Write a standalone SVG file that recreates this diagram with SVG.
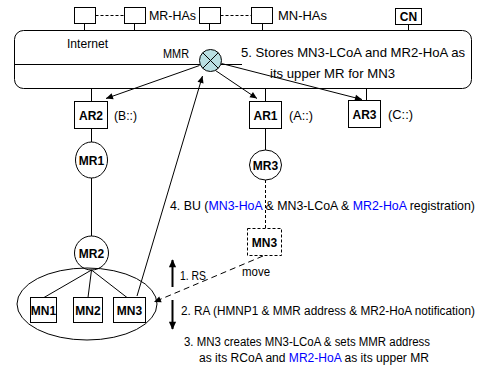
<svg xmlns="http://www.w3.org/2000/svg" width="482" height="367" viewBox="0 0 482 367">
<defs>
<style>
.ln{stroke:#000;stroke-width:1;fill:none}
.bx{stroke:#000;stroke-width:1;fill:#fff}
.dsh{stroke:#000;stroke-width:1;fill:none;stroke-dasharray:3,2}
.t{font-family:"Liberation Sans",Arial,sans-serif;font-size:13px;fill:#000}
.s{font-size:12px}
.lb{font-family:"Liberation Sans",Arial,sans-serif;font-size:12px;font-weight:bold;fill:#000}
.b{fill:#0000ff}
</style>
<marker id="ah" viewBox="0 0 10 10" refX="10" refY="5" markerWidth="9" markerHeight="7" markerUnits="userSpaceOnUse" orient="auto"><path d="M0,0.5 L10,5 L0,9.5 z" fill="#000"/></marker>
<marker id="ahb" viewBox="0 0 10 10" refX="9" refY="5" markerWidth="9" markerHeight="8" markerUnits="userSpaceOnUse" orient="auto"><path d="M0,0.5 L10,5 L0,9.5 z" fill="#000"/></marker>
</defs>
<rect width="482" height="367" fill="#fff"/>

<g id="internet">
<rect x="14.5" y="30.5" width="457" height="58" rx="9" class="bx"/>
<line x1="14.5" y1="64.5" x2="242" y2="64.5" class="ln"/>
<text x="67" y="48" class="t" textLength="41" lengthAdjust="spacingAndGlyphs">Internet</text>
<text x="163" y="58" class="t" textLength="26" lengthAdjust="spacingAndGlyphs">MMR</text>
<text x="241" y="57" class="t" textLength="224" lengthAdjust="spacingAndGlyphs">5. Stores MN3-LCoA and MR2-HoA as</text>
<text x="270" y="78" class="t" textLength="125" lengthAdjust="spacingAndGlyphs">its upper MR for MN3</text>
</g>

<g id="mrhas">
<rect x="74.5" y="7.5" width="21" height="16" class="bx"/>
<rect x="124.5" y="7.5" width="21" height="16" class="bx"/>
<text x="149" y="20" class="t" textLength="47" lengthAdjust="spacingAndGlyphs">MR-HAs</text>
</g>
<g id="mnhas">
<rect x="199.5" y="7.5" width="21" height="16" class="bx"/>
<rect x="251.5" y="7.5" width="21" height="16" class="bx"/>
<text x="278" y="20" class="t" textLength="49" lengthAdjust="spacingAndGlyphs">MN-HAs</text>
</g>
<g id="cn">
<rect x="395.5" y="8.5" width="26" height="16" class="bx" stroke-width="1.5"/>
<text x="408.5" y="21" class="lb" text-anchor="middle">CN</text>
</g>

<g id="mmr">
<circle cx="210.5" cy="60.5" r="11" fill="#b9dfe2" stroke="#000"/>
<line x1="202.7" y1="52.7" x2="218.3" y2="68.3" class="ln"/>
<line x1="218.3" y1="52.7" x2="202.7" y2="68.3" class="ln"/>
</g>

<g id="ar2">
<rect x="74.5" y="101.5" width="33" height="27" class="bx"/>
<text x="91" y="120" class="lb" text-anchor="middle">AR2</text>
<text x="114" y="120" class="t" textLength="23" lengthAdjust="spacingAndGlyphs">(B::)</text>
</g>
<g id="ar1">
<rect x="249.5" y="101.5" width="32" height="27" class="bx"/>
<text x="265.5" y="120" class="lb" text-anchor="middle">AR1</text>
<text x="289" y="120" class="t" textLength="24" lengthAdjust="spacingAndGlyphs">(A::)</text>
</g>
<g id="ar3">
<rect x="348.5" y="100.5" width="32" height="27" class="bx"/>
<text x="364.5" y="119" class="lb" text-anchor="middle">AR3</text>
<text x="388" y="119" class="t" textLength="25" lengthAdjust="spacingAndGlyphs">(C::)</text>
</g>

<g id="mr1">
<ellipse cx="91.5" cy="160" rx="16" ry="18" class="bx"/>
<text x="91.5" y="165" class="lb" text-anchor="middle">MR1</text>
</g>
<g id="mr2">
<ellipse cx="91.5" cy="253" rx="17" ry="17" class="bx"/>
<text x="91.5" y="258" class="lb" text-anchor="middle">MR2</text>
</g>
<g id="mr3">
<ellipse cx="265.5" cy="165" rx="16" ry="15" class="bx"/>
<text x="265.5" y="170" class="lb" text-anchor="middle">MR3</text>
</g>

<g id="subnet">
<ellipse cx="87" cy="304" rx="70" ry="36" class="ln"/>
</g>
<g id="mn1">
<rect x="30.5" y="297.5" width="26" height="25" class="bx" stroke-width="1.5"/>
<text x="43.5" y="315" class="lb" text-anchor="middle">MN1</text>
</g>
<g id="mn2">
<rect x="73.5" y="297.5" width="29" height="25" class="bx" stroke-width="1.5"/>
<text x="88" y="315" class="lb" text-anchor="middle">MN2</text>
</g>
<g id="mn3">
<rect x="113.5" y="297.5" width="32" height="25" class="bx" stroke-width="1.5"/>
<text x="129.5" y="315" class="lb" text-anchor="middle">MN3</text>
</g>
<g id="mn3moved">
<rect x="247.5" y="228.5" width="34" height="27" class="dsh" fill="#fff"/>
<text x="264.5" y="247" class="lb" text-anchor="middle">MN3</text>
</g>

<g id="connectors">
<line x1="84.5" y1="23.5" x2="84.5" y2="30.5" class="ln"/>
<line x1="134.5" y1="23.5" x2="134.5" y2="30.5" class="ln"/>
<line x1="209.5" y1="23.5" x2="209.5" y2="30.5" class="ln"/>
<line x1="262.5" y1="23.5" x2="262.5" y2="30.5" class="ln"/>
<line x1="408.5" y1="24.5" x2="408.5" y2="30.5" class="ln"/>
<line x1="95.5" y1="15.5" x2="124.5" y2="15.5" class="dsh"/>
<line x1="220.5" y1="15.5" x2="251.5" y2="15.5" class="dsh"/>
<line x1="91.5" y1="88.5" x2="91.5" y2="101.5" class="ln"/>
<line x1="265.5" y1="88.5" x2="265.5" y2="101.5" class="ln"/>
<line x1="366.5" y1="88.5" x2="366.5" y2="100.5" class="ln"/>
<line x1="91.5" y1="128.5" x2="91.5" y2="142" class="ln"/>
<line x1="91.5" y1="178" x2="91.5" y2="236" class="ln"/>
<line x1="265.5" y1="128.5" x2="265.5" y2="150" class="ln"/>
<line x1="265.5" y1="180" x2="265.5" y2="228.5" class="dsh"/>
<line x1="91.5" y1="270" x2="44" y2="297.5" class="ln"/>
<line x1="91.5" y1="270" x2="88" y2="297.5" class="ln"/>
<line x1="91.5" y1="270" x2="127" y2="297.5" class="ln"/>
<line x1="199.5" y1="65.5" x2="106" y2="98.5" class="ln" marker-end="url(#ah)"/>
<line x1="215.5" y1="70.5" x2="257" y2="98.5" class="ln" marker-end="url(#ah)"/>
<line x1="221.5" y1="63.5" x2="362" y2="99.5" class="ln" marker-end="url(#ah)"/>
<line x1="137" y1="296" x2="202.5" y2="76" class="ln" marker-end="url(#ah)"/>
<line x1="263" y1="256" x2="154" y2="302" class="ln" stroke-dasharray="6,4" marker-end="url(#ah)"/>
<line x1="172.5" y1="287" x2="172.5" y2="260" stroke="#000" stroke-width="2" marker-end="url(#ahb)"/>
<line x1="172.5" y1="300" x2="172.5" y2="329" stroke="#000" stroke-width="2" marker-end="url(#ahb)"/>
</g>

<g id="labels">
<text x="170" y="210" class="t" textLength="305" lengthAdjust="spacingAndGlyphs">4. BU (<tspan class="b">MN3-HoA</tspan> &amp; MN3-LCoA  &amp;  <tspan class="b">MR2-HoA</tspan> registration)</text>
<text x="242" y="276" class="t" textLength="28" lengthAdjust="spacingAndGlyphs">move</text>
<text x="180" y="280" class="t" textLength="26" lengthAdjust="spacingAndGlyphs">1. RS</text>
<text x="181" y="315" class="t s" textLength="294" lengthAdjust="spacingAndGlyphs">2. RA (HMNP1 &amp; MMR address &amp; MR2-HoA notification)</text>
<text x="184" y="346" class="t s" textLength="246" lengthAdjust="spacingAndGlyphs">3. MN3 creates MN3-LCoA &amp; sets MMR address</text>
<text x="199" y="362" class="t s" textLength="230" lengthAdjust="spacingAndGlyphs">as its RCoA and <tspan class="b">MR2-HoA</tspan> as its upper MR</text>
</g>
</svg>
